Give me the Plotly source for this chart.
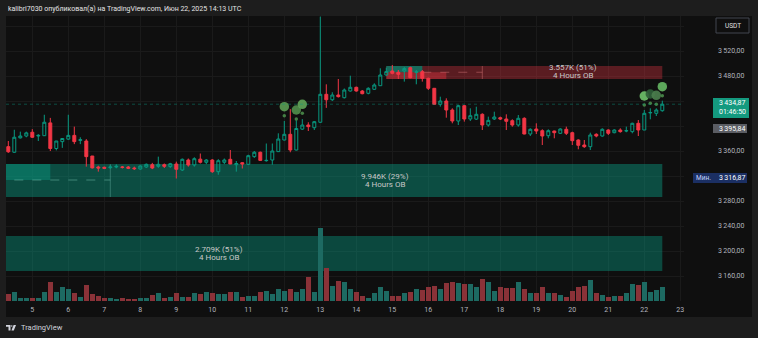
import pandas as pd
import plotly.graph_objects as go

# ETHUSDT, 4-hour candles from 4 Jun 2025 08:00 to 22 Jun 2025 12:00
first_bar = pd.Timestamp("2025-06-04 08:00")

opens = [3367, 3358, 3381, 3384, 3390, 3384, 3384.5, 3405, 3364, 3375,
         3379, 3385, 3377, 3376, 3352, 3334.4, 3333.9, 3333.3, 3334.4, 3334.4,
         3334.4, 3332.8, 3331.2, 3334.4, 3338.1, 3335.5, 3338.1, 3335, 3339.2, 3329.6,
         3345.6, 3337.6, 3347, 3341.9, 3345.6, 3326.9, 3341.9, 3346.7, 3338, 3341.3,
         3338.7, 3351, 3358, 3344.5, 3345.6, 3359, 3377.6, 3386.7, 3361.6, 3395,
         3401.6, 3397.3, 3406, 3450.7, 3442, 3449.6, 3445.3, 3456, 3461.9, 3456,
         3452.3, 3458.7, 3464.5, 3481.6, 3488, 3485.9, 3488, 3493.3, 3485.9, 3487,
         3476.3, 3460.3, 3434.7, 3440, 3425.6, 3408, 3432.5, 3411.2, 3411, 3418.7,
         3401.6, 3411.2, 3413.3, 3411.2, 3408.5, 3401.6, 3412.3, 3387.2, 3395.2, 3392.5,
         3384.5, 3392, 3388.3, 3394.7, 3389.3, 3377.6, 3369.6, 3366.9, 3386.7, 3384,
         3393.6, 3389.3, 3393.6, 3392, 3391, 3404.3, 3393.6, 3421, 3420.3, 3424.5]
highs = [3376, 3394, 3391, 3391, 3395, 3387, 3418, 3413, 3376, 3380,
         3418, 3399, 3382, 3379, 3352, 3336.5, 3335, 3337.6, 3338.7, 3336,
         3336, 3335, 3337, 3340, 3341, 3351, 3340, 3341, 3343, 3348,
         3348, 3350, 3356, 3347, 3347, 3347, 3348, 3361.6, 3344, 3342,
         3354, 3360, 3359, 3372, 3372, 3388.3, 3408, 3427, 3412.3, 3411,
         3406, 3408, 3575, 3466.7, 3454, 3475.2, 3460, 3480.5, 3463, 3457.6,
         3461.9, 3468.3, 3492.3, 3493.3, 3497.6, 3489.6, 3494.4, 3494.9, 3489.6, 3489.6,
         3477.3, 3460.3, 3446.9, 3444.3, 3428.3, 3433.6, 3433.6, 3428.3, 3430.9, 3420.3,
         3415, 3422.9, 3415, 3418.7, 3410.7, 3417.6, 3413.9, 3396.3, 3404.3, 3394.7,
         3394.7, 3392.5, 3396.3, 3399, 3390.9, 3378.7, 3377.6, 3389.3, 3388.3, 3396.3,
         3394.7, 3394.7, 3396.3, 3399, 3405.3, 3409.6, 3425.6, 3428.3, 3428.3, 3440.5]
lows = [3357, 3357, 3380, 3382, 3381, 3376, 3384, 3360, 3361, 3365,
        3378, 3371, 3371, 3335, 3332, 3327, 3331, 3331.2, 3332.3, 3332,
        3331, 3329.6, 3330, 3333, 3331, 3333, 3332.8, 3333, 3316, 3328,
        3335, 3335, 3340, 3339, 3325, 3322, 3339, 3339, 3327, 3332,
        3337.6, 3349, 3344, 3343, 3338, 3359, 3377, 3358, 3361, 3393.6,
        3392, 3393.6, 3405, 3429, 3440, 3445.5, 3444, 3455, 3455, 3450.7,
        3450.7, 3457.6, 3464.5, 3480.5, 3482.7, 3475.2, 3471, 3476.3, 3466.7, 3471,
        3457.6, 3433.6, 3431, 3413.3, 3404.3, 3401.6, 3407, 3408, 3409.6, 3393.6,
        3399, 3409.6, 3409.6, 3393.6, 3398.9, 3398.9, 3386.7, 3384, 3387.2, 3369.6,
        3380.3, 3380.3, 3387.2, 3385.6, 3369.6, 3362.7, 3365, 3361.6, 3381.9, 3383,
        3385.6, 3388.3, 3389.3, 3390, 3388.3, 3384, 3393.6, 3410.7, 3416, 3422.9]
closes = [3358.7, 3382, 3384, 3389, 3382, 3385, 3406, 3364, 3376, 3380,
          3385, 3375, 3378, 3351, 3333, 3332.8, 3332.3, 3334.4, 3335.5, 3333.9,
          3332.3, 3331.7, 3336, 3338.7, 3332.8, 3338.7, 3335.5, 3339.7, 3330.7, 3346.7,
          3337.6, 3347.7, 3341.9, 3345.6, 3326.9, 3344.5, 3345.6, 3339.2, 3340, 3339.2,
          3352.5, 3358, 3345, 3345, 3360, 3379.2, 3386.7, 3361.6, 3396, 3401.6,
          3399, 3406.9, 3450.7, 3442, 3449.6, 3447, 3457.6, 3461.9, 3456, 3451.7,
          3460.3, 3465.6, 3481.6, 3487, 3484.3, 3482.7, 3492, 3477.3, 3486.5, 3476.3,
          3460.3, 3434.7, 3440, 3425.6, 3408, 3432.5, 3411.2, 3416.5, 3418.7, 3401.6,
          3409, 3414.4, 3411.2, 3407.5, 3401.6, 3412.3, 3387.2, 3394.7, 3392, 3384,
          3392.5, 3389.3, 3395.2, 3388.3, 3376.5, 3369.1, 3366.9, 3385.6, 3384, 3394.7,
          3388.3, 3393.6, 3391, 3392.5, 3404.3, 3393.6, 3420.3, 3421.5, 3425.6, 3434.87]
volumes = [7, 9.3, 3.3, 3.3, 3.3, 3.3, 9.3, 19.3, 9.3, 14.3,
           12.3, 8.3, 4.3, 16, 6.7, 5, 3.3, 3, 2, 2.7,
           2.3, 2, 3.3, 3.3, 5.7, 7.7, 3, 4.3, 7.7, 4,
           4, 7.7, 7, 9.3, 8.3, 6.7, 7, 9.3, 9.3, 4.3,
           5.3, 5.3, 9, 10.3, 7.3, 11.7, 10.3, 11.7, 9.3, 12.3,
           24.3, 9.3, 73, 32.7, 15, 20.3, 19.3, 11.7, 9.3, 5,
           3.3, 7.7, 13.7, 10, 5, 5, 7.7, 9.3, 12, 11,
           13.7, 15, 11.7, 18.3, 19.3, 18.3, 16.7, 16.7, 13.7, 22.3,
           18.7, 10, 14.3, 13.3, 13.3, 19, 11.7, 7.7, 7.7, 14.3,
           7.7, 7.7, 5.7, 4, 10, 14.3, 15.3, 21, 7.7, 6,
           4.3, 5, 5, 8.3, 16.7, 16, 19.3, 9.3, 11, 13.7]

# large-trade bubbles: bar index, bubble price, marker dot price, colour
bubble_bars = [46, 48, 49, 106, 107, 108, 109]
bubble_prices = [3430.9, 3425.6, 3434.7, 3448, 3451.2, 3449.1, 3462.9]
bubble_dots = [3416.5, 3411.2, 3420.3, 3433.6, 3436.3, 3434.7, 3448.5]
bubble_colors = ["#5a9a52", "#4f8c4a", "#5ea358", "#6cbf68", "#2f5e38", "#4a7d4c", "#64b462"]

# order blocks: (start, end, low, high, label)
ob_bull_main = ("2025-06-03", "2025-06-22 12:00", 3286.4, 3339.2, "9.946K (29%)")
ob_bull_low = ("2025-06-03", "2025-06-22 12:00", 3168.0, 3224.0, "2.709K (51%)")
ob_bear = ("2025-06-14 20:00", "2025-06-22 12:00", 3475.2, 3496.0, "3.557K (51%)")

last_price = 3434.87
countdown = "01:46:50"
vwap_price = 3395.84
low_price = 3316.87

day_ticks = list(range(5, 24))
price_ticks = list(range(3160, 3561, 40))
hidden_prices = {3320, 3400, 3440, 3560}

times = pd.date_range(first_bar, periods=len(closes), freq="4h")

UP = "#089981"
DOWN = "#f23645"
BG = "#0f0f0f"
FRAME = "#1d1d1d"
TXT = "#b2b5be"
FONT = "Roboto"

W, H = 758, 338
PL, PR, PT, PB = 6, 684, 16, 301


def fx(px):
    return (px - PL) / (PR - PL)


def fy(py):
    return (PB - py) / (PB - PT)


def ru_price(v):
    s = f"{v:,.2f}"
    return s.replace(",", "\u2009").replace(".", ",")


def at_px(px):
    # time coordinate for a horizontal pixel position (day 5 at x=32.3, 36 px per day)
    return pd.Timestamp("2025-06-05") + pd.Timedelta(days=(px - 32.3) / 36)


vol_colors = ["#1d6a62" if c >= o else "#8a3238" for o, c in zip(opens, closes)]

fig = go.Figure()

fig.add_trace(go.Bar(
    x=times, y=volumes, yaxis="y2",
    marker=dict(color=vol_colors, line=dict(width=0)),
    width=4 * 3600 * 1000 * 0.88, hoverinfo="skip", showlegend=False,
))

fig.add_trace(go.Candlestick(
    x=times, open=opens, high=highs, low=lows, close=closes,
    increasing=dict(line=dict(color=UP, width=1), fillcolor="rgba(0,0,0,0)"),
    decreasing=dict(line=dict(color=DOWN, width=1), fillcolor=DOWN),
    whiskerwidth=0, showlegend=False, hoverinfo="skip",
))

bubble_x = [times[i] for i in bubble_bars]
fig.add_trace(go.Scatter(
    x=bubble_x, y=bubble_dots, mode="markers",
    marker=dict(size=3.5, color="#447f44", line=dict(width=0)),
    showlegend=False, hoverinfo="skip",
))
fig.add_trace(go.Scatter(
    x=bubble_x, y=bubble_prices, mode="markers",
    marker=dict(size=9.5, color=bubble_colors, opacity=0.92, line=dict(width=0)),
    showlegend=False, hoverinfo="skip",
))

shapes = []
# chart panel
shapes.append(dict(type="rect", xref="paper", yref="paper", layer="below",
                   x0=fx(6), x1=fx(752), y0=fy(317), y1=fy(16),
                   fillcolor=BG, line=dict(width=0)))


def box(x0, x1, y0, y1, color):
    shapes.append(dict(type="rect", xref="x", yref="y", layer="between",
                       x0=x0, x1=x1, y0=y0, y1=y1, fillcolor=color, line=dict(width=0)))


def seg(x0, x1, y0, y1, color, dash="solid"):
    shapes.append(dict(type="line", xref="x", yref="y", layer="between",
                       x0=x0, x1=x1, y0=y0, y1=y1, line=dict(color=color, width=1, dash=dash)))


# bullish order block with its volume split
s, e, lo, hi, _ = ob_bull_main
box(s, e, lo, hi, "rgba(8,153,129,0.45)")
box(s, "2025-06-05 12:00", 3313.6, hi, "rgba(8,153,129,0.45)")
seg(s, "2025-06-07 04:00", 3313.6, 3313.6, "rgba(140,220,200,0.4)", "dash")
seg("2025-06-07 04:00", "2025-06-07 04:00", lo, hi, "rgba(140,220,200,0.3)")

s, e, lo, hi, _ = ob_bull_low
box(s, e, lo, hi, "rgba(8,153,129,0.42)")

# bearish order block
s, e, lo, hi, _ = ob_bear
box(s, e, lo, hi, "rgba(242,54,69,0.33)")
box(s, "2025-06-15 20:00", 3486.0, hi, "#186a5b")
box(s, "2025-06-16 12:00", lo, 3486.0, "rgba(242,54,69,0.38)")
seg("2025-06-15 20:00", "2025-06-17 12:00", 3486.0, 3486.0, "rgba(255,150,150,0.35)", "dash")
seg("2025-06-17 12:00", "2025-06-17 12:00", lo, hi, "rgba(255,150,150,0.35)")

# last price line
shapes.append(dict(type="line", xref="paper", yref="y", x0=0, x1=1,
                   y0=last_price, y1=last_price,
                   line=dict(color="rgba(8,153,129,0.45)", width=1, dash="dot")))

# price-scale badges
shapes.append(dict(type="rect", xref="paper", yref="paper",
                   x0=fx(716), x1=fx(749), y0=fy(33), y1=fy(18),
                   fillcolor=BG, line=dict(color="#434651", width=1)))
shapes.append(dict(type="rect", xref="paper", yref="paper",
                   x0=fx(713), x1=fx(749), y0=fy(118), y1=fy(98),
                   fillcolor="#149a7f", line=dict(width=0)))
shapes.append(dict(type="rect", xref="paper", yref="paper",
                   x0=fx(713), x1=fx(747), y0=fy(133), y1=fy(124),
                   fillcolor="#5b5d63", line=dict(width=0)))
shapes.append(dict(type="rect", xref="paper", yref="paper",
                   x0=fx(693), x1=fx(747), y0=fy(183), y1=fy(173),
                   fillcolor="#1b2f63", line=dict(width=0)))

# TradingView mark
shapes.append(dict(type="path", xref="paper", yref="paper",
                   path=(f"M {fx(6)},{fy(325)} L {fx(10.5)},{fy(325)} L {fx(10.5)},{fy(330.5)} "
                         f"L {fx(8.5)},{fy(330.5)} L {fx(8.5)},{fy(326.8)} L {fx(6)},{fy(326.8)} Z"),
                   fillcolor="#d1d4dc", line=dict(width=0)))
shapes.append(dict(type="circle", xref="paper", yref="paper",
                   x0=fx(11), x1=fx(12.6), y0=fy(326.8), y1=fy(325.2),
                   fillcolor="#d1d4dc", line=dict(width=0)))
shapes.append(dict(type="path", xref="paper", yref="paper",
                   path=(f"M {fx(13.6)},{fy(325)} L {fx(16)},{fy(325)} L {fx(13.8)},{fy(330.5)} "
                         f"L {fx(11.4)},{fy(330.5)} Z"),
                   fillcolor="#d1d4dc", line=dict(width=0)))

ann = []


def label(x, y, text, size=7, color="#ffffff", xanchor="center", xref="paper", yref="paper"):
    ann.append(dict(x=x, y=y, xref=xref, yref=yref, text=text, showarrow=False,
                    xanchor=xanchor, yanchor="middle",
                    font=dict(family=FONT, size=size, color=color)))


label(fx(6), fy(9.5), "kalibri7030 опубликовал(а) на TradingView.com, Июн 22, 2025 14:13 UTC",
      size=7, color="#e4e4e4", xanchor="left")
label(fx(19), fy(327.8), "TradingView", size=7.5, color="#d1d4dc", xanchor="left")
label(fx(732.5), fy(25.5), "USDT", size=6.5, color="#e0e0e0")
label(fx(717), fy(103.5), ru_price(last_price), size=7, xanchor="left")
label(fx(717), fy(112), countdown, size=7, xanchor="left")
label(fx(717), fy(128.5), ru_price(vwap_price), size=7, xanchor="left")
label(fx(703), fy(178), "Мин.", size=6.5, color="#c9d6ff")
label(fx(717), fy(178), ru_price(low_price), size=7, xanchor="left")

ob_text = "#c8c8c8"
for (px, blk, py1, py2) in [(385, ob_bull_main, 176.5, 184.5),
                            (218.5, ob_bull_low, 249.5, 257.5),
                            (573, ob_bear, 67.5, 75.5)]:
    label(at_px(px), fy(py1), blk[4], size=8, color=ob_text, xref="x")
    label(at_px(px), fy(py2), "4 Hours OB", size=8, color=ob_text, xref="x")

tick_text = ["" if p in hidden_prices else ru_price(p) for p in price_ticks]
day_vals = [pd.Timestamp(2025, 6, d) for d in day_ticks]

fig.update_layout(
    width=W, height=H,
    margin=dict(l=PL, r=W - PR, t=PT, b=H - PB),
    paper_bgcolor=FRAME, plot_bgcolor="rgba(0,0,0,0)",
    shapes=shapes, annotations=ann,
    bargap=0, showlegend=False,
    xaxis=dict(type="date", range=[at_px(PL), at_px(PR)],
               tickmode="array", tickvals=day_vals, ticktext=[str(d) for d in day_ticks],
               showgrid=True, gridcolor="#1a1a1a", gridwidth=1, zeroline=False,
               showline=False, ticks="", ticklabelstandoff=3,
               tickfont=dict(family=FONT, size=7, color=TXT),
               rangeslider=dict(visible=False), fixedrange=True),
    yaxis=dict(range=[3120, 3576], side="right", tickmode="array",
               tickvals=price_ticks, ticktext=tick_text,
               showgrid=True, gridcolor="#1a1a1a", gridwidth=1, zeroline=False,
               showline=False, ticks="", ticklabelstandoff=33,
               tickfont=dict(family=FONT, size=7, color=TXT), fixedrange=True),
    yaxis2=dict(range=[0, PB - PT], overlaying="y", visible=False, fixedrange=True),
)

fig.write_html("out.html")
